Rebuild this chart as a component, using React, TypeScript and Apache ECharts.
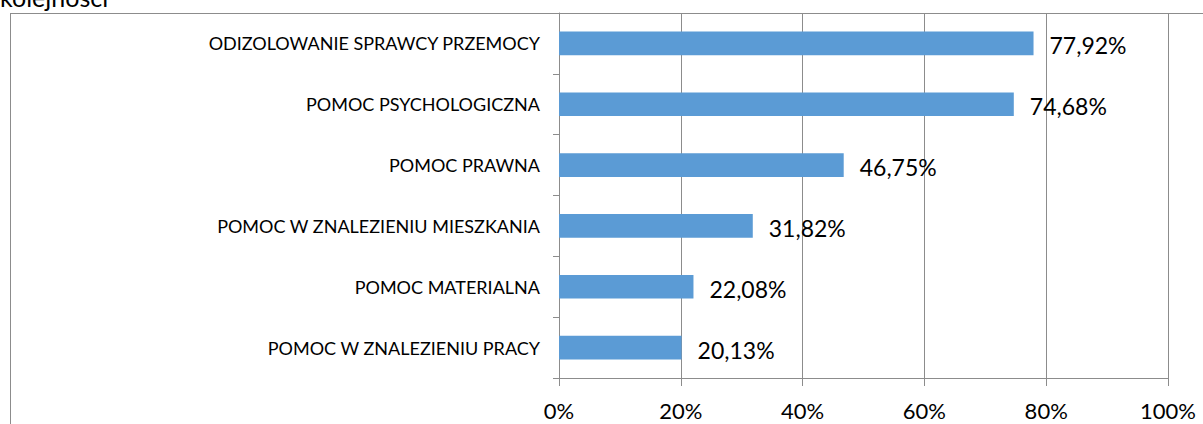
import React, { useEffect, useRef } from "react";
import * as echarts from "echarts";

const categories = [
  "POMOC W ZNALEZIENIU PRACY",
  "POMOC MATERIALNA",
  "POMOC W ZNALEZIENIU MIESZKANIA",
  "POMOC PRAWNA",
  "POMOC PSYCHOLOGICZNA",
  "ODIZOLOWANIE SPRAWCY PRZEMOCY",
];
const values = [20.13, 22.08, 31.82, 46.75, 74.68, 77.92];
const titleText = "kolejności";

export default function App() {
  const ref = useRef<HTMLDivElement>(null);
  useEffect(() => {
    if (!ref.current) return;
    const chart = echarts.init(ref.current, null, { renderer: "svg" });
    const font = "Lato, 'Open Sans', sans-serif";
    chart.setOption({
      animation: false,
      textStyle: { fontFamily: font },
      grid: { left: 559, right: 35, top: 13, bottom: 46, containLabel: false },
      xAxis: {
        type: "value",
        min: 0,
        max: 100,
        interval: 20,
        axisLine: { show: true, lineStyle: { color: "#8c8c8c", width: 1 } },
        axisTick: { show: true, length: 8, inside: false, lineStyle: { color: "#8c8c8c" } },
        splitLine: { show: true, lineStyle: { color: "#8c8c8c", width: 1 } },
        axisLabel: {
          formatter: (v: number) => v + "%",
          color: "#000",
          fontSize: 22,
          fontFamily: font,
          margin: 21,
        },
      },
      yAxis: {
        type: "category",
        data: categories,
        axisLine: { show: true, lineStyle: { color: "#8c8c8c", width: 1 } },
        axisTick: { show: true, length: 6, lineStyle: { color: "#8c8c8c" } },
        axisLabel: { color: "#000", fontSize: 18, fontFamily: font, margin: 19 },
      },
      series: [
        {
          type: "bar",
          data: values,
          barWidth: "39%",
          itemStyle: { color: "#5B9BD5" },
          label: {
            show: true,
            position: "right",
            distance: 16,
            color: "#000",
            fontSize: 23,
            fontFamily: font,
            offset: [0, 2],
            formatter: (p: any) => p.value.toFixed(2).replace(".", ",") + "%",
          },
        },
      ],
      graphic: [
        {
          type: "line",
          shape: { x1: 10, y1: 13.5, x2: 1203, y2: 13.5 },
          style: { stroke: "#8c8c8c", lineWidth: 1 },
          z: 10,
        },
        {
          type: "line",
          shape: { x1: 10.5, y1: 13, x2: 10.5, y2: 424 },
          style: { stroke: "#8c8c8c", lineWidth: 1 },
          z: 10,
        },
        {
          type: "text",
          x: 0,
          y: 0,
          style: {
            x: 0,
            y: 9,
            text: titleText,
            fontSize: 25,
            fontFamily: font,
            fill: "#000",
            verticalAlign: "bottom",
          },
        },
      ],
    });
    return () => chart.dispose();
  }, []);
  return (
    <div
      ref={ref}
      style={{ position: "fixed", left: 0, top: 0, width: 1203, height: 424, background: "#fff" }}
    />
  );
}
